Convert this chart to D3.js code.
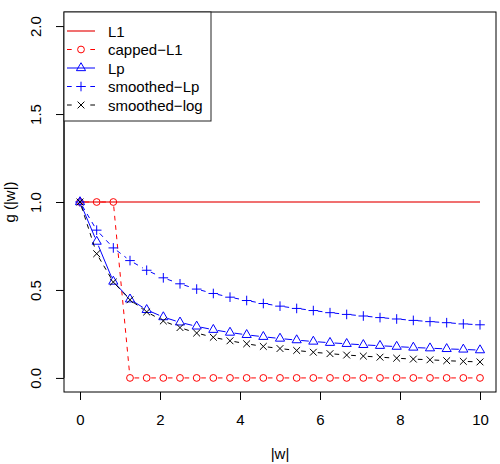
<!DOCTYPE html>
<html>
<head>
<meta charset="utf-8">
<script src="https://cdn.jsdelivr.net/npm/d3@7"></script>
<style>
  body { margin: 0; background: #fff; }
  svg { display: block; font-family: "Liberation Sans", Arial, Helvetica, sans-serif; }
</style>
</head>
<body>
<svg id="chart" width="500" height="464"></svg>
<script>
// ---- data ----
const wValues = [0, 0.417, 0.833, 1.25, 1.667, 2.083, 2.5, 2.917, 3.333, 3.75, 4.167, 4.583, 5,
                 5.417, 5.833, 6.25, 6.667, 7.083, 7.5, 7.917, 8.333, 8.75, 9.167, 9.583, 10];
const l1Values = [1, 1, 1, 1, 1, 1, 1, 1, 1, 1, 1, 1, 1, 1, 1, 1, 1, 1, 1, 1, 1, 1, 1, 1, 1];
const cappedL1Values = [1, 1, 1, 0, 0, 0, 0, 0, 0, 0, 0, 0, 0, 0, 0, 0, 0, 0, 0, 0, 0, 0, 0, 0, 0];
const lpValues = [1, 0.775, 0.548, 0.447, 0.387, 0.346, 0.316, 0.293, 0.274, 0.258, 0.245, 0.234, 0.224,
                  0.215, 0.207, 0.2, 0.194, 0.188, 0.183, 0.178, 0.173, 0.169, 0.165, 0.162, 0.158];
const smoothedLpValues = [1, 0.84, 0.739, 0.667, 0.612, 0.569, 0.535, 0.505, 0.48, 0.459, 0.44, 0.423, 0.408,
                          0.395, 0.383, 0.371, 0.361, 0.352, 0.343, 0.335, 0.327, 0.32, 0.314, 0.307, 0.302];
const smoothedLogValues = [1, 0.706, 0.545, 0.444, 0.375, 0.324, 0.286, 0.255, 0.231, 0.211, 0.194, 0.179, 0.167,
                           0.156, 0.146, 0.138, 0.13, 0.124, 0.118, 0.112, 0.107, 0.103, 0.098, 0.094, 0.091];
const seriesNames = ["L1", "capped\u2212L1", "Lp", "smoothed\u2212Lp", "smoothed\u2212log"];
const xTicks = [0, 2, 4, 6, 8, 10];
const yTicks = [0, 0.5, 1, 1.5, 2];
const yTickLabels = ["0.0", "0.5", "1.0", "1.5", "2.0"];
const xTitle = "|w|";
const yTitle = "g (|w|)";

// ---- styles ----
const series = [
  { name: seriesNames[0], values: l1Values,          color: "#F07070", width: 2, dash: null,      marker: null,  gaps: false },
  { name: seriesNames[1], values: cappedL1Values,    color: "#FF0000", width: 1, dash: "4.7,4.7", marker: "circle", gaps: true },
  { name: seriesNames[2], values: lpValues,          color: "#0000FF", width: 1, dash: null,      marker: "triangle", gaps: true },
  { name: seriesNames[3], values: smoothedLpValues,  color: "#0000FF", width: 1, dash: "4.7,4.7", marker: "plus", gaps: true },
  { name: seriesNames[4], values: smoothedLogValues, color: "#000000", width: 1, dash: "4.7,4.7", marker: "cross", gaps: true }
];

const FONT = 15;
const svg = d3.select("#chart");
const pLeft = 64, pRight = 496, pTop = 12, pBottom = 392;

const x = d3.scaleLinear().domain([-0.4, 10.4]).range([pLeft, pRight]);
const y = d3.scaleLinear().domain([-0.08, 2.08]).range([pBottom, pTop]);

// ---- markers ----
const R = 3.4;             // base marker radius
const G = R / 0.375;       // R graphics size unit
function markerPath(type, cx, cy) {
  if (type === "triangle") {
    const r = 0.5834 * G, yc = r / 2, xc = 0.5052 * G;
    return `M${cx},${cy - r}L${cx + xc},${cy + yc}L${cx - xc},${cy + yc}Z`;
  }
  if (type === "plus") {
    const h = 1.4142 * R;
    return `M${cx - h},${cy}L${cx + h},${cy}M${cx},${cy - h}L${cx},${cy + h}`;
  }
  if (type === "cross") {
    const h = R;
    return `M${cx - h},${cy - h}L${cx + h},${cy + h}M${cx - h},${cy + h}L${cx + h},${cy - h}`;
  }
  return null;
}
function drawMarker(g, type, cx, cy, color) {
  if (!type) return;
  if (type === "circle") {
    g.append("circle").attr("cx", cx).attr("cy", cy).attr("r", R)
      .attr("fill", "none").attr("stroke", color).attr("stroke-width", 1);
  } else {
    g.append("path").attr("d", markerPath(type, cx, cy))
      .attr("fill", "none").attr("stroke", color).attr("stroke-width", 1);
  }
}

// ---- axes ----
const xAxis = d3.axisBottom(x).tickValues(xTicks).tickSize(8).tickFormat(d3.format("d"));
const gx = svg.append("g").attr("transform", `translate(0,${pBottom})`).call(xAxis);
gx.select(".domain").remove();
gx.selectAll(".tick line").attr("stroke", "#000");
gx.selectAll(".tick text").attr("y", 33).attr("dy", null)
  .attr("font-size", FONT).attr("fill", "#000");
gx.attr("font-family", null).attr("font-size", null);

const yAxis = d3.axisLeft(y).tickValues(yTicks).tickSize(8)
  .tickFormat((d, i) => yTickLabels[i]);
const gy = svg.append("g").attr("transform", `translate(${pLeft},0)`).call(yAxis);
gy.select(".domain").remove();
gy.append("line").attr("x1", 0).attr("x2", 0).attr("y1", y(yTicks[0])).attr("y2", y(yTicks[yTicks.length - 1]))
  .attr("stroke", "#000");
gy.selectAll(".tick line").attr("stroke", "#000");
gy.selectAll(".tick text")
  .attr("x", null).attr("y", null).attr("dy", null)
  .attr("transform", "translate(-23,0) rotate(-90)")
  .attr("text-anchor", "middle")
  .attr("font-size", FONT).attr("fill", "#000");
gy.attr("font-family", null).attr("font-size", null);

// axis titles
svg.append("text").attr("x", (x(0) + x(10)) / 2).attr("y", 459)
  .attr("text-anchor", "middle").attr("font-size", FONT).text(xTitle);
svg.append("text").attr("transform", `translate(15,${(pTop + pBottom) / 2}) rotate(-90)`)
  .attr("text-anchor", "middle").attr("font-size", FONT).text(yTitle);

// ---- series ----
const plot = svg.append("g");
const GAP = 4.5;
series.forEach(s => {
  const g = plot.append("g");
  const pts = wValues.map((w, i) => [x(w), y(s.values[i])]);
  if (!s.gaps) {
    g.append("path").attr("d", d3.line()(pts)).attr("fill", "none")
      .attr("stroke", s.color).attr("stroke-width", s.width);
  } else {
    for (let i = 1; i < pts.length; i++) {
      const [x0, y0] = pts[i - 1], [x1, y1] = pts[i];
      const len = Math.hypot(x1 - x0, y1 - y0);
      const f = GAP / len;
      if (f < 0.5) {
        g.append("line")
          .attr("x1", x0 + f * (x1 - x0)).attr("y1", y0 + f * (y1 - y0))
          .attr("x2", x1 - f * (x1 - x0)).attr("y2", y1 - f * (y1 - y0))
          .attr("stroke", s.color).attr("stroke-width", s.width)
          .attr("stroke-dasharray", s.dash);
      }
    }
  }
  pts.forEach(p => drawMarker(g, s.marker, p[0], p[1], s.color));
});

// ---- plot box ----
svg.append("rect").attr("x", pLeft).attr("y", pTop).attr("width", pRight - pLeft).attr("height", pBottom - pTop)
  .attr("fill", "none").attr("stroke", "#000").attr("stroke-width", 1);

// ---- legend ----
const lg = svg.append("g");
lg.append("rect").attr("x", pLeft).attr("y", pTop).attr("width", 147).attr("height", 109)
  .attr("fill", "#fff").attr("stroke", "#222").attr("stroke-width", 1);
series.forEach((s, i) => {
  const cy = 31 + i * 18.5;
  const x0 = 67, x1 = 95, xm = 81;
  if (s.dash) {
    lg.append("line").attr("x1", x0).attr("x2", x0 + 4.7).attr("y1", cy).attr("y2", cy)
      .attr("stroke", s.color).attr("stroke-width", s.width);
    lg.append("line").attr("x1", x1 - 4.7).attr("x2", x1).attr("y1", cy).attr("y2", cy)
      .attr("stroke", s.color).attr("stroke-width", s.width);
  } else {
    lg.append("line").attr("x1", x0).attr("x2", x1).attr("y1", cy).attr("y2", cy)
      .attr("stroke", s.color).attr("stroke-width", s.width);
  }
  drawMarker(lg, s.marker, xm, cy, s.color);
  lg.append("text").attr("x", 108).attr("y", cy + 5.5).attr("font-size", FONT).text(s.name);
});
</script>
</body>
</html>
